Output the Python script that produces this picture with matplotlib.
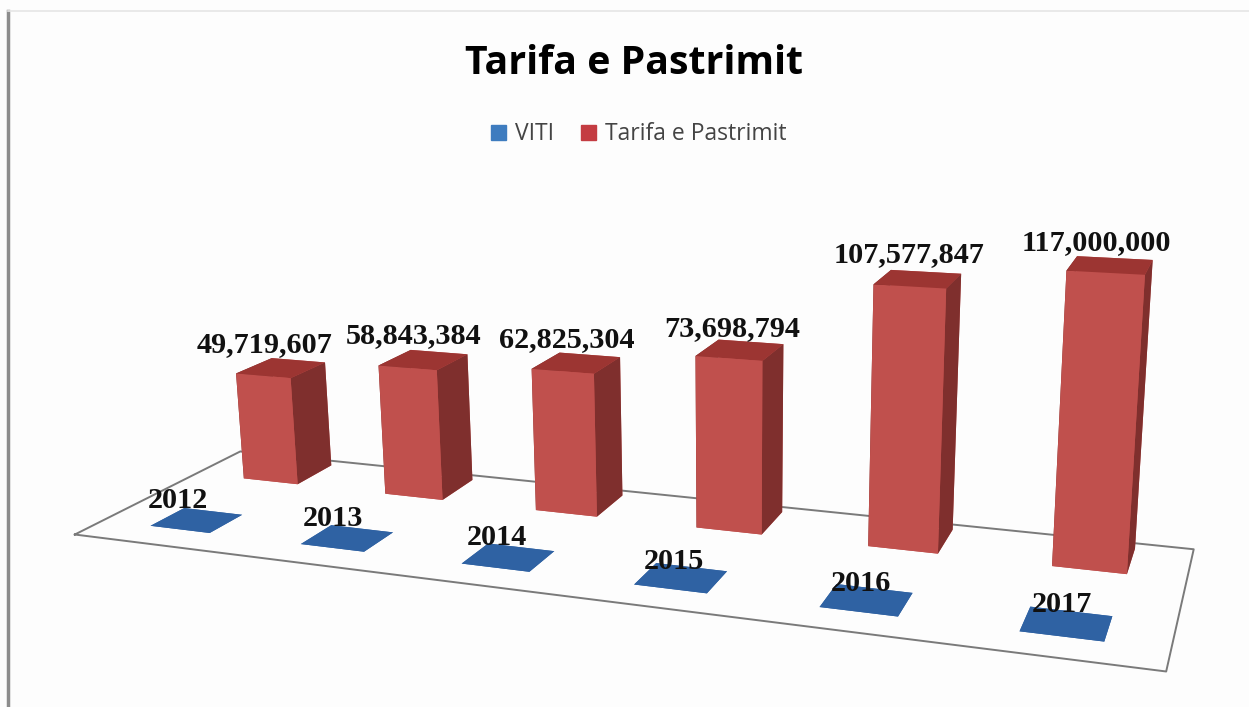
import matplotlib
matplotlib.use("Agg")
import matplotlib.pyplot as plt
from matplotlib.patches import Patch
from mpl_toolkits.mplot3d import proj3d
import numpy as np

years = ["2012", "2013", "2014", "2015", "2016", "2017"]
viti = [2012, 2013, 2014, 2015, 2016, 2017]
tarifa = [49719607, 58843384, 62825304, 73698794, 107577847, 117000000]
tarifa_labels = ["49,719,607", "58,843,384", "62,825,304", "73,698,794", "107,577,847", "117,000,000"]

fig = plt.figure(figsize=(12.49, 7.07), dpi=100, facecolor="#FDFDFD")
ax = fig.add_axes([0.0333, -0.4013, 0.9191, 1.6238], projection="3d", computed_zorder=False)
ax.patch.set_alpha(0)
ax.set_proj_type("persp", focal_length=0.292)
ax.view_init(elev=15.162, azim=-69.101, roll=0.888)
ax.set_axis_off()
ax.set_box_aspect((6, 1.734, 1.642))
ymax = 120e6
ax.set_xlim(-0.5, 5.5); ax.set_ylim(0, 2); ax.set_zlim(0, ymax)
xs = np.arange(6)

# floor outline
fx0, fx1 = -0.597, 5.439
ax.plot([fx0, fx1, fx1, fx0, fx0], [0, 0, 2, 2, 0], [0, 0, 0, 0, 0], color="#7A7A7A", lw=1.4, zorder=2, clip_on=False)

blue = "#2F62A3"
red_faces = ["#C0504D", "#9C3532", "#C0504D", "#C0504D", "#7F2F2D", "#7F2F2D"]
tile_w, tile_off, tile_y0, tile_y1 = 0.4015, -0.0694, 0.3087, 0.7013
bar_w, bar_off, bar_y0, bar_y1 = 0.3876, -0.0565, 1.4181, 1.8977

for i, x in enumerate(xs):
    ax.bar3d(x + tile_off - tile_w / 2, tile_y0, 0, tile_w, tile_y1 - tile_y0, viti[i],
             color=blue, shade=False, zorder=3).set_clip_on(False)
for i, x in enumerate(xs):
    ax.bar3d(x + bar_off - bar_w / 2, bar_y0, 0, bar_w, bar_y1 - bar_y0, tarifa[i],
             color=red_faces, shade=False, zorder=4).set_clip_on(False)

def project(x, y, z):
    px, py, _ = proj3d.proj_transform(x, y, z, ax.get_proj())
    return float(px), float(py)

label_font = dict(family="Liberation Serif", weight="bold", fontsize=21.8, color="#111111", zorder=6,
                  ha="center", va="bottom", annotation_clip=False, xycoords="data", textcoords="offset pixels")
value_shift = [(-16, 10), (-10, 11), (-10, 10), (-8, 8), (-9, 11), (-14, 9)]
year_shift = [(-19, 6), (-14, 6), (-11, 6), (-7, 3), (-6, 3), (-4, 6)]
for i, x in enumerate(xs):
    ax.annotate(tarifa_labels[i], xy=project(x + bar_off, (bar_y0 + bar_y1) / 2, tarifa[i]), xytext=value_shift[i], **label_font)
    ax.annotate(years[i], xy=project(x + tile_off, (tile_y0 + tile_y1) / 2, 0), xytext=year_shift[i], **label_font)

fig.text(0.5076, 0.9095, "Tarifa e Pastrimit", ha="center", va="center", family="Open Sans",
         weight="bold", fontsize=28.3, color="black")
fig.legend(handles=[Patch(color="#3E7CBF", label="VITI"), Patch(color="#C43C42", label="Tarifa e Pastrimit")],
           loc="center", bbox_to_anchor=(0.5115, 0.810), ncol=2, frameon=False,
           handlelength=0.62, handleheight=0.62, columnspacing=1.2, handletextpad=0.4,
           prop={"family": "Open Sans", "size": 16.5}, labelcolor="#444444")

fig.add_artist(plt.Line2D([0.0065, 0.0065], [0, 0.985], color="#8C8C8C", lw=2.5))
fig.add_artist(plt.Line2D([0.0065, 1], [0.985, 0.985], color="#E6E6E6", lw=1.2))
fig.savefig("out.png", dpi=100, facecolor=fig.get_facecolor())
